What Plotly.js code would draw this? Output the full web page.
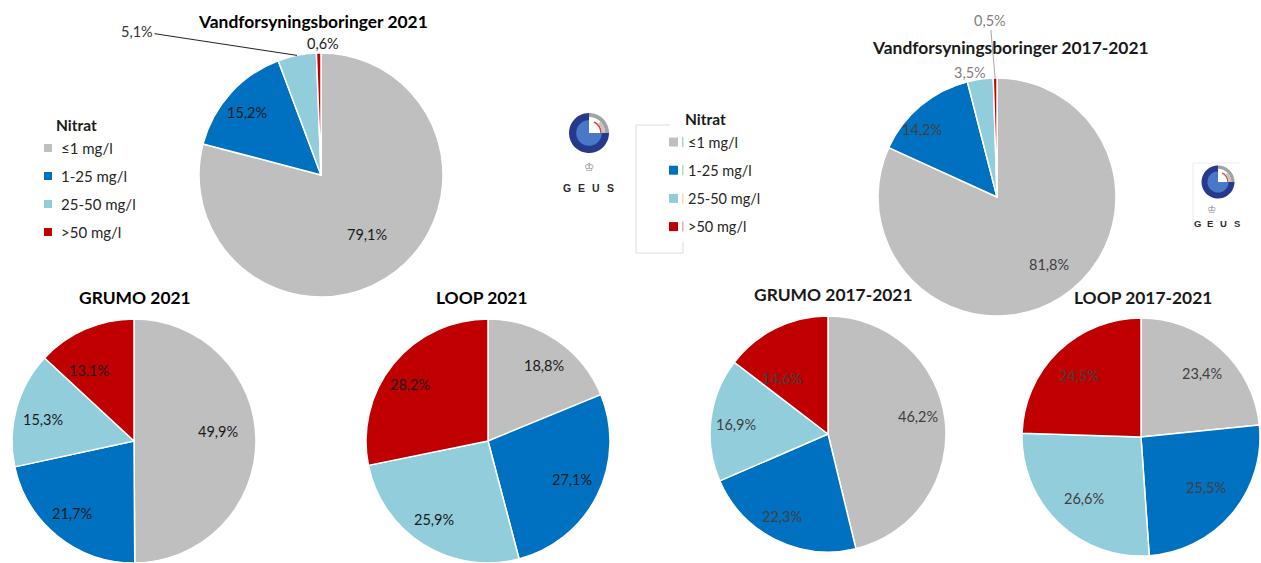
<!DOCTYPE html>
<html>
<head>
<meta charset="utf-8">
<script src="https://cdn.plot.ly/plotly-3.0.1.min.js"></script>
<style>
  html, body { margin: 0; padding: 0; background: #ffffff; }
  #chart { width: 1261px; height: 563px; }
</style>
</head>
<body>
<div id="chart"></div>
<script>
// ---------------- DATA ----------------
const categories = ['≤1 mg/l', '1-25 mg/l', '25-50 mg/l', '>50 mg/l'];
const legendTitle = 'Nitrat';
const vand2021 = [79.1, 15.2, 5.1, 0.6];
const vand1721 = [81.8, 14.2, 3.5, 0.5];
const grumo2021 = [49.9, 21.7, 15.3, 13.1];
const loop2021 = [18.8, 27.1, 25.9, 28.2];
const grumo1721 = [46.2, 22.3, 16.9, 14.6];
const loop1721 = [23.4, 25.5, 26.6, 24.5];
const pieTitles = ['Vandforsyningsboringer 2021', 'Vandforsyningsboringer 2017-2021',
                   'GRUMO 2021', 'LOOP 2021', 'GRUMO 2017-2021', 'LOOP 2017-2021'];
const logoLetters = ['G', 'E', 'U', 'S'];

// ---------------- STYLE / LAYOUT ----------------
const W = 1261, H = 563;
const colors = ['#BFBFBF', '#0070C0', '#92CDDC', '#C00000'];
const FONT = 'Lato, "Open Sans", sans-serif';
const px = x => x / W;
const py = y => 1 - y / H;

// geometry of each pie (pixels), label placement tweaks [radius factor, angle offset deg]
const pieDefs = [
  { values: vand2021, title: pieTitles[0], cx: 321, cy: 175, r: 122, tx: 313, ty: 21, tcol: '#000', lcol: '#1a1a1a',
    lab: [[0.62, 0], [0.79, -2], null, [1.08, 2]],
    leader: { idx: 2, tx: 137, ty: 31, col: '#222', tcol: '#333' } },
  { values: vand1721, title: pieTitles[1], cx: 997, cy: 197, r: 119, tx: 1010, ty: 47, tcol: '#1a1a1a', lcol: '#404040',
    lab: [[0.72, -5], [0.85, -8], [1.07, -4], null],
    leader: { idx: 3, tx: 990, ty: 20, col: '#a6a6a6', tcol: '#7f7f7f' }, greyIdx: 2 },
  { values: grumo2021, title: pieTitles[2], cx: 134, cy: 441, r: 122, tx: 135, ty: 297, tcol: '#000', lcol: '#1a1a1a',
    lab: [[0.69, -6], [0.78, 2], [0.77, -2], [0.69, -9]] },
  { values: loop2021, title: pieTitles[3], cx: 488, cy: 441, r: 122, tx: 482, ty: 297, tcol: '#000', lcol: '#1a1a1a',
    lab: [[0.77, 3], [0.76, -2], [0.78, 3], [0.79, -3]] },
  { values: grumo1721, title: pieTitles[4], cx: 828, cy: 434, r: 118, tx: 833, ty: 294, tcol: '#1a1a1a', lcol: '#404040',
    lab: [[0.78, -4], [0.80, 3], [0.78, -1], [0.61, -13]] },
  { values: loop1721, title: pieTitles[5], cx: 1141, cy: 437, r: 119, tx: 1143, ty: 297, tcol: '#1a1a1a', lcol: '#404040',
    lab: [[0.74, 2], [0.69, -2], [0.70, -1], [0.73, -1]] }
];

const fmt = v => v.toFixed(1).replace('.', ',') + '%';

const traces = [];
const annotations = [];
const shapes = [];
const LBL = 14.5;

pieDefs.forEach((p, i) => {
  traces.push({
    type: 'pie',
    values: p.values,
    labels: categories,
    sort: false,
    direction: 'clockwise',
    rotation: 0,
    textinfo: 'none',
    hoverinfo: 'label+percent',
    showlegend: false,
    marker: { colors: colors, line: { color: '#ffffff', width: 1.5 } },
    domain: { x: [px(p.cx - p.r), px(p.cx + p.r)], y: [py(p.cy + p.r), py(p.cy - p.r)] }
  });
  annotations.push({
    xref: 'paper', yref: 'paper', x: px(p.tx), y: py(p.ty), text: '<b>' + p.title + '</b>',
    showarrow: false, xanchor: 'center', yanchor: 'middle',
    font: { family: FONT, size: 17.4, color: p.tcol }
  });
  const total = p.values.reduce((a, b) => a + b, 0);
  let cum = 0;
  p.values.forEach((v, j) => {
    const mid = (cum + v / 2) / total * 360;
    cum += v;
    if (p.leader && p.leader.idx === j) {
      const th = mid * Math.PI / 180;
      const hx = p.cx + p.r * Math.sin(th);
      const hy = p.cy - p.r * Math.cos(th);
      annotations.push({
        xref: 'paper', yref: 'paper', x: px(hx), y: py(hy),
        ax: p.leader.tx - hx, ay: p.leader.ty - hy,
        text: fmt(v), showarrow: true, arrowhead: 0, arrowwidth: 1, arrowcolor: p.leader.col,
        standoff: 0, startstandoff: 0,
        font: { family: FONT, size: LBL, color: p.leader.tcol }
      });
      return;
    }
    const [k, dth] = p.lab[j];
    const th = (mid + dth) * Math.PI / 180;
    const lx = p.cx + k * p.r * Math.sin(th);
    const ly = p.cy - k * p.r * Math.cos(th);
    annotations.push({
      xref: 'paper', yref: 'paper', x: px(lx), y: py(ly), text: fmt(v),
      showarrow: false, xanchor: 'center', yanchor: 'middle',
      font: { family: FONT, size: LBL, color: (p.greyIdx === j) ? '#7f7f7f' : p.lcol }
    });
  });
});

// ---------------- LEGENDS ----------------
function legend(x0, y0, titleX, titleY, dy, sq, textX, textSize, extraBars) {
  annotations.push({
    xref: 'paper', yref: 'paper', x: px(titleX), y: py(titleY), text: '<b>' + legendTitle + '</b>',
    showarrow: false, xanchor: 'left', yanchor: 'middle',
    font: { family: FONT, size: 15.5, color: '#1a1a1a' }
  });
  categories.forEach((c, j) => {
    const yc = y0 + j * dy;
    shapes.push({ type: 'rect', xref: 'paper', yref: 'paper',
      x0: px(x0), x1: px(x0 + sq), y0: py(yc - sq / 2), y1: py(yc + sq / 2),
      fillcolor: colors[j], line: { width: 0 } });
    if (extraBars) {
      shapes.push({ type: 'rect', xref: 'paper', yref: 'paper',
        x0: px(extraBars.x), x1: px(extraBars.x + 1.5), y0: py(yc - 5), y1: py(yc + 5),
        fillcolor: extraBars.cols[j], line: { width: 0 } });
    }
    annotations.push({
      xref: 'paper', yref: 'paper', x: px(textX), y: py(yc), text: c,
      showarrow: false, xanchor: 'left', yanchor: 'middle',
      font: { family: FONT, size: textSize, color: '#262626' }
    });
  });
}
legend(44, 148, 54, 125, 28, 8, 59, 15, null);
legend(669, 142, 683, 119, 28.2, 9, 686, 14.5, { x: 682, cols: ['#9fd3e8', '#b8dcb0', '#f7df9a', '#f2a7b0'] });

function pathFromPts(pts, close) {
  return pts.map((q, k) => (k ? 'L' : 'M') + px(q[0]).toFixed(5) + ',' + py(q[1]).toFixed(5)).join(' ') + (close ? ' Z' : '');
}
shapes.push({ type: 'path', xref: 'paper', yref: 'paper',
  path: pathFromPts([[670, 125], [636, 125], [636, 253], [683, 253], [683, 242]], false),
  line: { color: '#dcdcdc', width: 1 } });

// ---------------- GEUS LOGOS ----------------
function sector(cx, cy, r0, r1, a0, a1) {
  const pts = [];
  const n = 40;
  for (let k = 0; k <= n; k++) {
    const a = (a0 + (a1 - a0) * k / n) * Math.PI / 180;
    pts.push([cx + r1 * Math.sin(a), cy - r1 * Math.cos(a)]);
  }
  if (r0 <= 0) {
    pts.push([cx, cy]);
  } else {
    for (let k = n; k >= 0; k--) {
      const a = (a0 + (a1 - a0) * k / n) * Math.PI / 180;
      pts.push([cx + r0 * Math.sin(a), cy - r0 * Math.cos(a)]);
    }
  }
  return pathFromPts(pts, true);
}
function logo(cx, cy, R, textY, crownY, textSize, textX0, textX1, frame) {
  const add = (path, col) => shapes.push({ type: 'path', xref: 'paper', yref: 'paper', path: path, fillcolor: col, line: { width: 0 } });
  add(sector(cx, cy, 0, R, 90, 360), '#253a8c');
  add(sector(cx, cy, 0.80 * R, R, 0, 90), '#a3a3a3');
  add(sector(cx, cy, 0, 0.64 * R, 90, 360), '#4a78c8');
  add(sector(cx, cy, 0.56 * R, 0.64 * R, 25, 90), '#e0403a');
  add(sector(cx, cy, 0.64 * R, 0.80 * R, 45, 90), '#c4c4c4');
  annotations.push({ xref: 'paper', yref: 'paper', x: px(cx), y: py(crownY), text: '♔',
    showarrow: false, font: { family: 'DejaVu Sans', size: textSize + 1, color: '#8a8a8a' } });
  logoLetters.forEach((L, k) => {
    const x = textX0 + (textX1 - textX0) * k / (logoLetters.length - 1);
    annotations.push({ xref: 'paper', yref: 'paper', x: px(x), y: py(textY), text: '<b>' + L + '</b>',
      showarrow: false, xanchor: 'center',
      font: { family: 'Liberation Sans, Arial', size: textSize, color: '#2b2b2b' } });
  });
  if (frame) {
    shapes.push({ type: 'path', xref: 'paper', yref: 'paper',
      path: pathFromPts([[frame[0], frame[3]], [frame[0], frame[1]], [frame[2], frame[1]]], false),
      line: { color: '#ececec', width: 1 } });
  }
}
logo(589, 133, 20, 180, 158, 10.5, 567, 610, null);
logo(1218, 182, 16.5, 223, 209, 9.5, 1197, 1237, [1193, 163, 1240, 232]);

const layout = {
  width: W, height: H,
  margin: { l: 0, r: 0, t: 0, b: 0 },
  paper_bgcolor: '#ffffff',
  showlegend: false,
  annotations: annotations,
  shapes: shapes,
  font: { family: FONT }
};

Plotly.newPlot('chart', traces, layout, { displayModeBar: false, staticPlot: true });
</script>
</body>
</html>
